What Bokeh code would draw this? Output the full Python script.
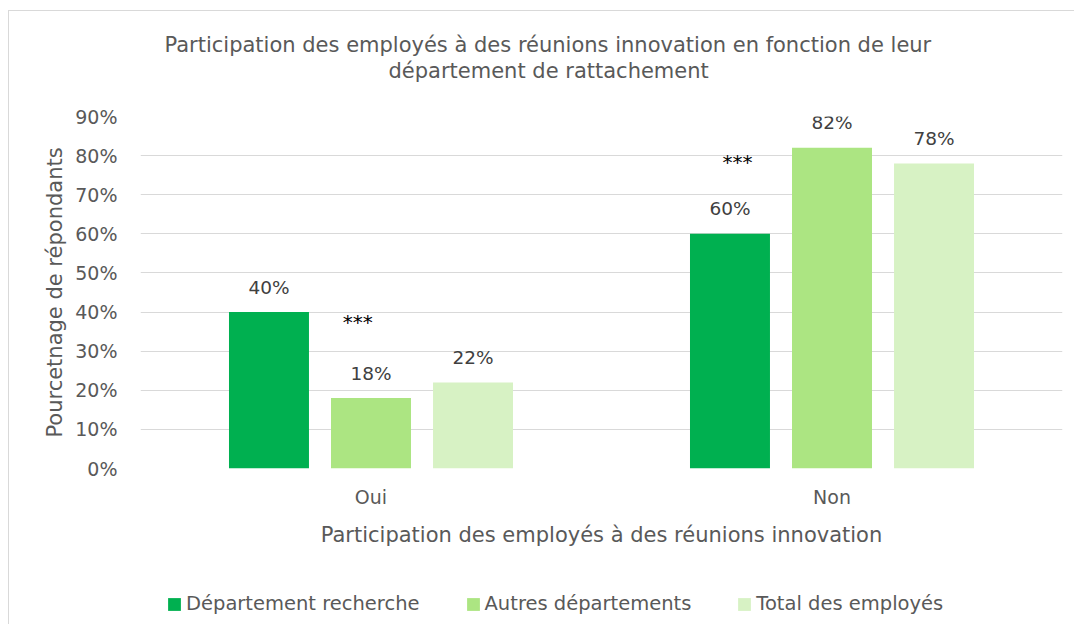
from bokeh.plotting import figure
from bokeh.layouts import column
from bokeh.models import (ColumnDataSource, FactorRange, Range1d, Legend, LegendItem,
                          Title, NumeralTickFormatter, FixedTicker)
from bokeh.transform import dodge
from bokeh.core.properties import value
from bokeh.embed import file_html
from bokeh.resources import INLINE

# ---------------- data ----------------
categories = ["Oui", "Non"]
series_names = ["Département recherche", "Autres départements", "Total des employés"]
dept_recherche = [0.40, 0.60]
autres_departements = [0.18, 0.82]
total_employes = [0.22, 0.78]
y_ticks = [0.0, 0.1, 0.2, 0.3, 0.4, 0.5, 0.6, 0.7, 0.8, 0.9]
title_lines = ["Participation des employés à des réunions innovation en fonction de leur",
               "département de rattachement"]
x_title = "Participation des employés à des réunions innovation"
y_title = "Pourcetnage de répondants"
significance_marks = ["***", "***"]

# ---------------- style ----------------
FONT = "DejaVu Sans"
TXT = "#595959"
colors = ["#00B050", "#ACE582", "#D7F2C4"]
offsets = [-0.2213, 0.0, 0.2213]
bar_w = 0.1735

p = figure(width=1066, height=549, title=None,
           x_range=FactorRange(factors=categories, range_padding=0),
           y_range=Range1d(0, 0.9),
           output_backend="svg", toolbar_location=None,
           min_border_left=131, min_border_right=13,
           min_border_top=105, min_border_bottom=92)
p.outline_line_color = None
p.background_fill_color = "white"
p.border_fill_color = "white"

# grid & axes
p.xgrid.visible = False
p.ygrid.ticker = FixedTicker(ticks=y_ticks)
p.ygrid.grid_line_color = "#d9d9d9"
p.ygrid.grid_line_width = 1

p.yaxis.ticker = FixedTicker(ticks=y_ticks)
p.yaxis.formatter = NumeralTickFormatter(format="0%")
for ax in (p.xaxis[0], p.yaxis[0]):
    ax.axis_line_color = None
    ax.major_tick_line_color = None
    ax.minor_tick_line_color = None
    ax.major_tick_out = 0
    ax.major_tick_in = 0
    ax.minor_tick_out = 0
    ax.major_label_text_font = FONT
    ax.major_label_text_font_size = "19px"
    ax.major_label_text_color = TXT
    ax.axis_label_text_font = FONT
    ax.axis_label_text_font_size = "21px"
    ax.axis_label_text_font_style = "normal"
    ax.axis_label_text_color = TXT
p.yaxis.major_label_standoff = 23
p.yaxis.axis_label = y_title
p.yaxis.axis_label_standoff = 5
p.xaxis.major_label_standoff = 17
p.xaxis.axis_label = x_title
p.xaxis.axis_label_standoff = 12

# legend strip (separate figure; its bars lie outside its visible y-range)
p2 = figure(width=1066, height=65, title=None,
            x_range=FactorRange(factors=categories, range_padding=0),
            y_range=Range1d(10, 11), x_axis_type=None, y_axis_type=None,
            output_backend="svg", toolbar_location=None,
            min_border_left=0, min_border_right=0, min_border_top=0, min_border_bottom=0)
p2.outline_line_color = None
p2.border_fill_color = "white"
p2.background_fill_color = "white"
p2.xgrid.visible = False
p2.ygrid.visible = False

# bars + labels
series_values = [dept_recherche, autres_departements, total_employes]
items = []
for name, vals, col, off in zip(series_names, series_values, colors, offsets):
    src = ColumnDataSource(dict(cat=categories, val=vals,
                                lab=[f"{round(v * 100)}%" for v in vals]))
    p.vbar(x=dodge("cat", off, range=p.x_range), top="val", width=bar_w,
           source=src, fill_color=col, line_color=None)
    p.text(x=dodge("cat", off, range=p.x_range), y="val", text="lab", source=src,
           text_align="center", text_baseline="middle", y_offset=-25,
           text_font=value(FONT), text_font_size="18.5px", text_color="#404040")
    r2 = p2.vbar(x=dodge("cat", off, range=p2.x_range), top="val", width=bar_w,
                 source=src, fill_color=col, line_color=None)
    items.append(LegendItem(label=name, renderers=[r2]))

# significance markers
sig_x_shift = [-0.029, -0.205]
sig_y = [0.3744, 0.783]
for cat, dx, yy, mark in zip(categories, sig_x_shift, sig_y, significance_marks):
    p.text(x=dodge("cat", dx, range=p.x_range), y="y", text="t",
           source=ColumnDataSource(dict(cat=[cat], y=[yy], t=[mark])),
           text_align="center", text_baseline="middle",
           text_font=value(FONT), text_font_size="20px", text_color="black")

# title: spacer nearest the plot, then line 2, then line 1
p.add_layout(Title(text=" ", text_font_size="1px", standoff=31), "above")
p.add_layout(Title(text=title_lines[1], align="left", offset=248, standoff=0,
                   text_font=FONT, text_font_size="21px", text_font_style="normal",
                   text_color=TXT), "above")
p.add_layout(Title(text=title_lines[0], align="left", offset=24, standoff=0,
                   text_font=FONT, text_font_size="21px", text_font_style="normal",
                   text_color=TXT), "above")

legend = Legend(items=items, orientation="horizontal", location=(26, 10),
                padding=0, margin=0, spacing=45, label_standoff=4,
                glyph_width=16, glyph_height=16,
                label_text_font=FONT, label_text_font_size="19.5px",
                label_text_color=TXT, background_fill_alpha=0,
                border_line_color=None)
p2.add_layout(legend, "center")

layout = column(p, p2, spacing=0,
                styles={"margin-left": "9px", "margin-top": "11px",
                        "box-shadow": "-1px -1px 0 0 #d9d9d9"})
open("out.html", "w").write(file_html(layout, INLINE))
